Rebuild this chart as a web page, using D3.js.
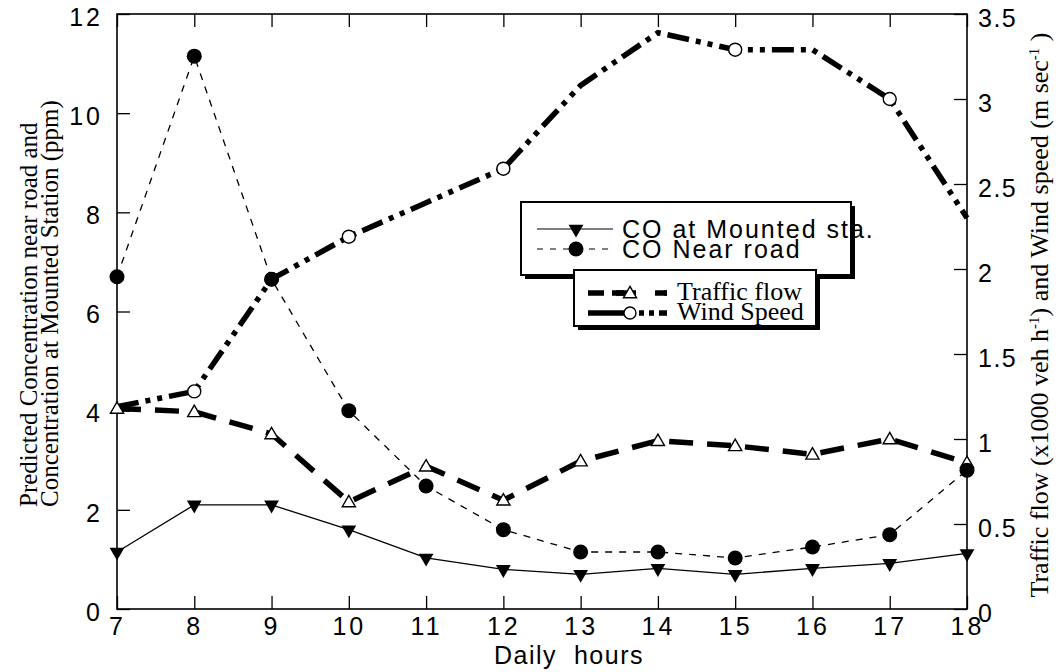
<!DOCTYPE html>
<html>
<head>
<meta charset="utf-8">
<script src="https://cdn.jsdelivr.net/npm/d3@7"></script>
<style>
  html, body { margin: 0; padding: 0; background: #fff; }
  svg { display: block; }
</style>
</head>
<body>
<svg id="chart" width="1058" height="672"></svg>
<script>
// ---------------- data ----------------
const hours = [7, 8, 9, 10, 11, 12, 13, 14, 15, 16, 17, 18];
const coMounted  = [1.15, 2.1, 2.1, 1.6, 1.03, 0.8, 0.7, 0.82, 0.7, 0.82, 0.92, 1.12];
const coNearRoad = [6.7, 11.15, 6.65, 4.0, 2.48, 1.6, 1.15, 1.15, 1.03, 1.25, 1.5, 2.8];
const trafficFlow = [1.18, 1.16, 1.03, 0.63, 0.84, 0.64, 0.87, 0.99, 0.96, 0.91, 1.0, 0.86];
const windSpeed  = [1.19, 1.28, 1.94, 2.19, 2.39, 2.59, 3.08, 3.39, 3.29, 3.29, 3.0, 2.3];
const windMarkerHours = [8, 9, 10, 12, 15, 17];

const leftTicks = [0, 2, 4, 6, 8, 10, 12];
const rightTicks = [0, 0.5, 1, 1.5, 2, 2.5, 3, 3.5];
const rightTickLabels = ["0", "0.5", "1", "1.5", "2", "2.5", "3", "3.5"];
const xTitle = "Daily  hours";
const leftTitle = ["Predicted Concentration near road and", "Concentration at Mounted Station (ppm)"];
const legendTop = ["CO at Mounted sta.", "CO Near road"];
const legendBottom = ["Traffic flow", "Wind Speed"];

// ---------------- layout ----------------
const svg = d3.select("#chart");
const L = 117, R = 967, T = 14, B = 609;

const x = d3.scaleLinear().domain([7, 18]).range([L, R]);
const yL = d3.scaleLinear().domain([0, 12]).range([B, T]);
const yR = d3.scaleLinear().domain([0, 3.5]).range([B, T]);

const tickFont = "'Liberation Sans', Arial, Helvetica, sans-serif";
const serifFont = "'Liberation Serif', 'Times New Roman', serif";

// frame
svg.append("rect").attr("x", L).attr("y", T).attr("width", R - L).attr("height", B - T)
  .attr("fill", "none").attr("stroke", "#000").attr("stroke-width", 1.6);

function styleAxis(g) {
  g.select(".domain").remove();
  g.selectAll(".tick line").attr("stroke", "#000").attr("stroke-width", 1.3);
  g.selectAll(".tick text").attr("fill", "#000").style("font-family", tickFont)
    .style("font-size", "25px").style("letter-spacing", "3px");
}

svg.append("g").attr("transform", `translate(${L},0)`)
  .call(d3.axisLeft(yL).tickValues(leftTicks).tickSize(-13).tickSizeOuter(0).tickPadding(14))
  .call(styleAxis)
  .call(g => g.selectAll(".tick text").attr("dy", "0.45em"));

svg.append("g").attr("transform", `translate(${R},0)`)
  .call(d3.axisRight(yR).tickValues(rightTicks).tickSize(-13).tickSizeOuter(0).tickPadding(11)
    .tickFormat((d, i) => rightTickLabels[i]))
  .call(styleAxis)
  .call(g => g.selectAll(".tick text").attr("dy", "0.5em").style("letter-spacing", "1.5px"));

svg.append("g").attr("transform", `translate(0,${B})`)
  .call(d3.axisBottom(x).tickValues(hours).tickSize(-13).tickSizeOuter(0).tickPadding(8)
    .tickFormat(d3.format("d")))
  .call(styleAxis);

svg.append("g").attr("transform", `translate(0,${T})`)
  .call(d3.axisTop(x).tickValues(hours).tickSize(-13).tickSizeOuter(0).tickFormat(""))
  .call(styleAxis);

// axis titles
svg.append("text").attr("x", 569).attr("y", 664).attr("text-anchor", "middle")
  .style("font-family", tickFont).style("font-size", "25px").style("letter-spacing", "1.5px")
  .attr("xml:space", "preserve").text(xTitle);

const lt = svg.append("text").attr("transform", "translate(37,507) rotate(-90)")
  .attr("text-anchor", "start").style("font-family", serifFont).style("font-size", "25px");
leftTitle.forEach((s, i) => lt.append("tspan").attr("x", 0).attr("dy", i === 0 ? 0 : 21).text(s));

const rt = svg.append("text").attr("transform", "translate(1048,315) rotate(-90)")
  .attr("text-anchor", "middle").style("font-family", serifFont).style("font-size", "26px");
rt.append("tspan").text("Traffic flow (x1000 veh h");
rt.append("tspan").attr("dy", -9).style("font-size", "15px").text("-1");
rt.append("tspan").attr("dy", 9).text(") and Wind speed (m sec");
rt.append("tspan").attr("dy", -9).style("font-size", "15px").text("-1");
rt.append("tspan").attr("dy", 9).text(" )");

// ---------------- series ----------------
const lineL = d3.line().x((d, i) => x(hours[i])).y(d => yL(d));
const lineR = d3.line().x((d, i) => x(hours[i])).y(d => yR(d));

const plot = svg.append("g");

plot.append("path").datum(windSpeed).attr("d", lineR).attr("fill", "none")
  .attr("stroke", "#000").attr("stroke-width", 5.5).attr("stroke-dasharray", "22,7,5,7,5,7");

plot.append("path").datum(trafficFlow).attr("d", lineR).attr("fill", "none")
  .attr("stroke", "#000").attr("stroke-width", 5.5).attr("stroke-dasharray", "24,14");

plot.append("path").datum(coNearRoad).attr("d", lineL).attr("fill", "none")
  .attr("stroke", "#000").attr("stroke-width", 1.3).attr("stroke-dasharray", "7,7");

plot.append("path").datum(coMounted).attr("d", lineL).attr("fill", "none")
  .attr("stroke", "#000").attr("stroke-width", 1.3);

// markers
const triUp = d3.symbol().type(d3.symbolTriangle).size(75);
const triDown = d3.symbol().type(d3.symbolTriangle).size(95);

plot.selectAll(".wmark").data(hours.map((h, i) => ({h, v: windSpeed[i]})).filter(d => windMarkerHours.includes(d.h)))
  .join("circle")
  .attr("cx", d => x(d.h)).attr("cy", d => yR(d.v)).attr("r", 6.5)
  .attr("fill", "#fff").attr("stroke", "#000").attr("stroke-width", 1.4);

plot.selectAll(".tmark").data(trafficFlow).join("path")
  .attr("d", triUp).attr("transform", (d, i) => `translate(${x(hours[i])},${yR(d) + 1})`)
  .attr("fill", "#fff").attr("stroke", "#000").attr("stroke-width", 1.4);

plot.selectAll(".nmark").data(coNearRoad).join("circle")
  .attr("cx", (d, i) => x(hours[i])).attr("cy", d => yL(d)).attr("r", 7.5).attr("fill", "#000");

plot.selectAll(".mmark").data(coMounted).join("path")
  .attr("d", triDown).attr("transform", (d, i) => `translate(${x(hours[i])},${yL(d)}) rotate(180)`)
  .attr("fill", "#000");

// ---------------- legends ----------------
function box(g, x0, y0, x1, y1) {
  g.append("rect").attr("x", x0 + 4).attr("y", y0 + 4).attr("width", x1 - x0).attr("height", y1 - y0)
    .attr("fill", "#000");
  g.append("rect").attr("x", x0).attr("y", y0).attr("width", x1 - x0).attr("height", y1 - y0)
    .attr("fill", "#fff").attr("stroke", "#000").attr("stroke-width", 2);
}
const lg1 = svg.append("g");
box(lg1, 521, 202, 851, 275);
const lg1Rows = [229, 249];
lg1.append("line").attr("x1", 537).attr("x2", 613).attr("y1", lg1Rows[0]).attr("y2", lg1Rows[0])
  .attr("stroke", "#000").attr("stroke-width", 1.2);
lg1.append("path").attr("d", triDown).attr("transform", `translate(576,${lg1Rows[0]}) rotate(180)`).attr("fill", "#000");
lg1.append("line").attr("x1", 537).attr("x2", 613).attr("y1", lg1Rows[1]).attr("y2", lg1Rows[1])
  .attr("stroke", "#000").attr("stroke-width", 1.2).attr("stroke-dasharray", "6,7");
lg1.append("circle").attr("cx", 576).attr("cy", lg1Rows[1]).attr("r", 7.5).attr("fill", "#000");
legendTop.forEach((s, i) => lg1.append("text").attr("x", 622).attr("y", lg1Rows[i] + 9)
  .style("font-family", tickFont).style("font-size", "25px").style("letter-spacing", "2px").text(s));

const lg2 = svg.append("g");
box(lg2, 574, 270, 816, 326);
const lg2Rows = [293, 313];
lg2.append("line").attr("x1", 588).attr("x2", 667).attr("y1", lg2Rows[0]).attr("y2", lg2Rows[0])
  .attr("stroke", "#000").attr("stroke-width", 5.5).attr("stroke-dasharray", "16,12,8,40");
lg2.append("line").attr("x1", 612).attr("x2", 636).attr("y1", lg2Rows[0]).attr("y2", lg2Rows[0])
  .attr("stroke", "#000").attr("stroke-width", 5.5);
lg2.append("path").attr("d", triUp).attr("transform", `translate(630,${lg2Rows[0] + 1})`)
  .attr("fill", "#fff").attr("stroke", "#000").attr("stroke-width", 1.4);
lg2.append("line").attr("x1", 646).attr("x2", 667).attr("y1", lg2Rows[0]).attr("y2", lg2Rows[0])
  .attr("stroke", "#000").attr("stroke-width", 5.5).attr("stroke-dasharray", "0,9,12,0");
lg2.append("line").attr("x1", 588).attr("x2", 667).attr("y1", lg2Rows[1]).attr("y2", lg2Rows[1])
  .attr("stroke", "#000").attr("stroke-width", 5.5).attr("stroke-dasharray", "36,5,5,5,5,5,5,5");
lg2.append("circle").attr("cx", 630).attr("cy", lg2Rows[1]).attr("r", 6).attr("fill", "#fff")
  .attr("stroke", "#000").attr("stroke-width", 1.4);
legendBottom.forEach((s, i) => lg2.append("text").attr("x", 677).attr("y", lg2Rows[i] + 7)
  .style("font-family", serifFont).style("font-size", "26px").text(s));
</script>
</body>
</html>
